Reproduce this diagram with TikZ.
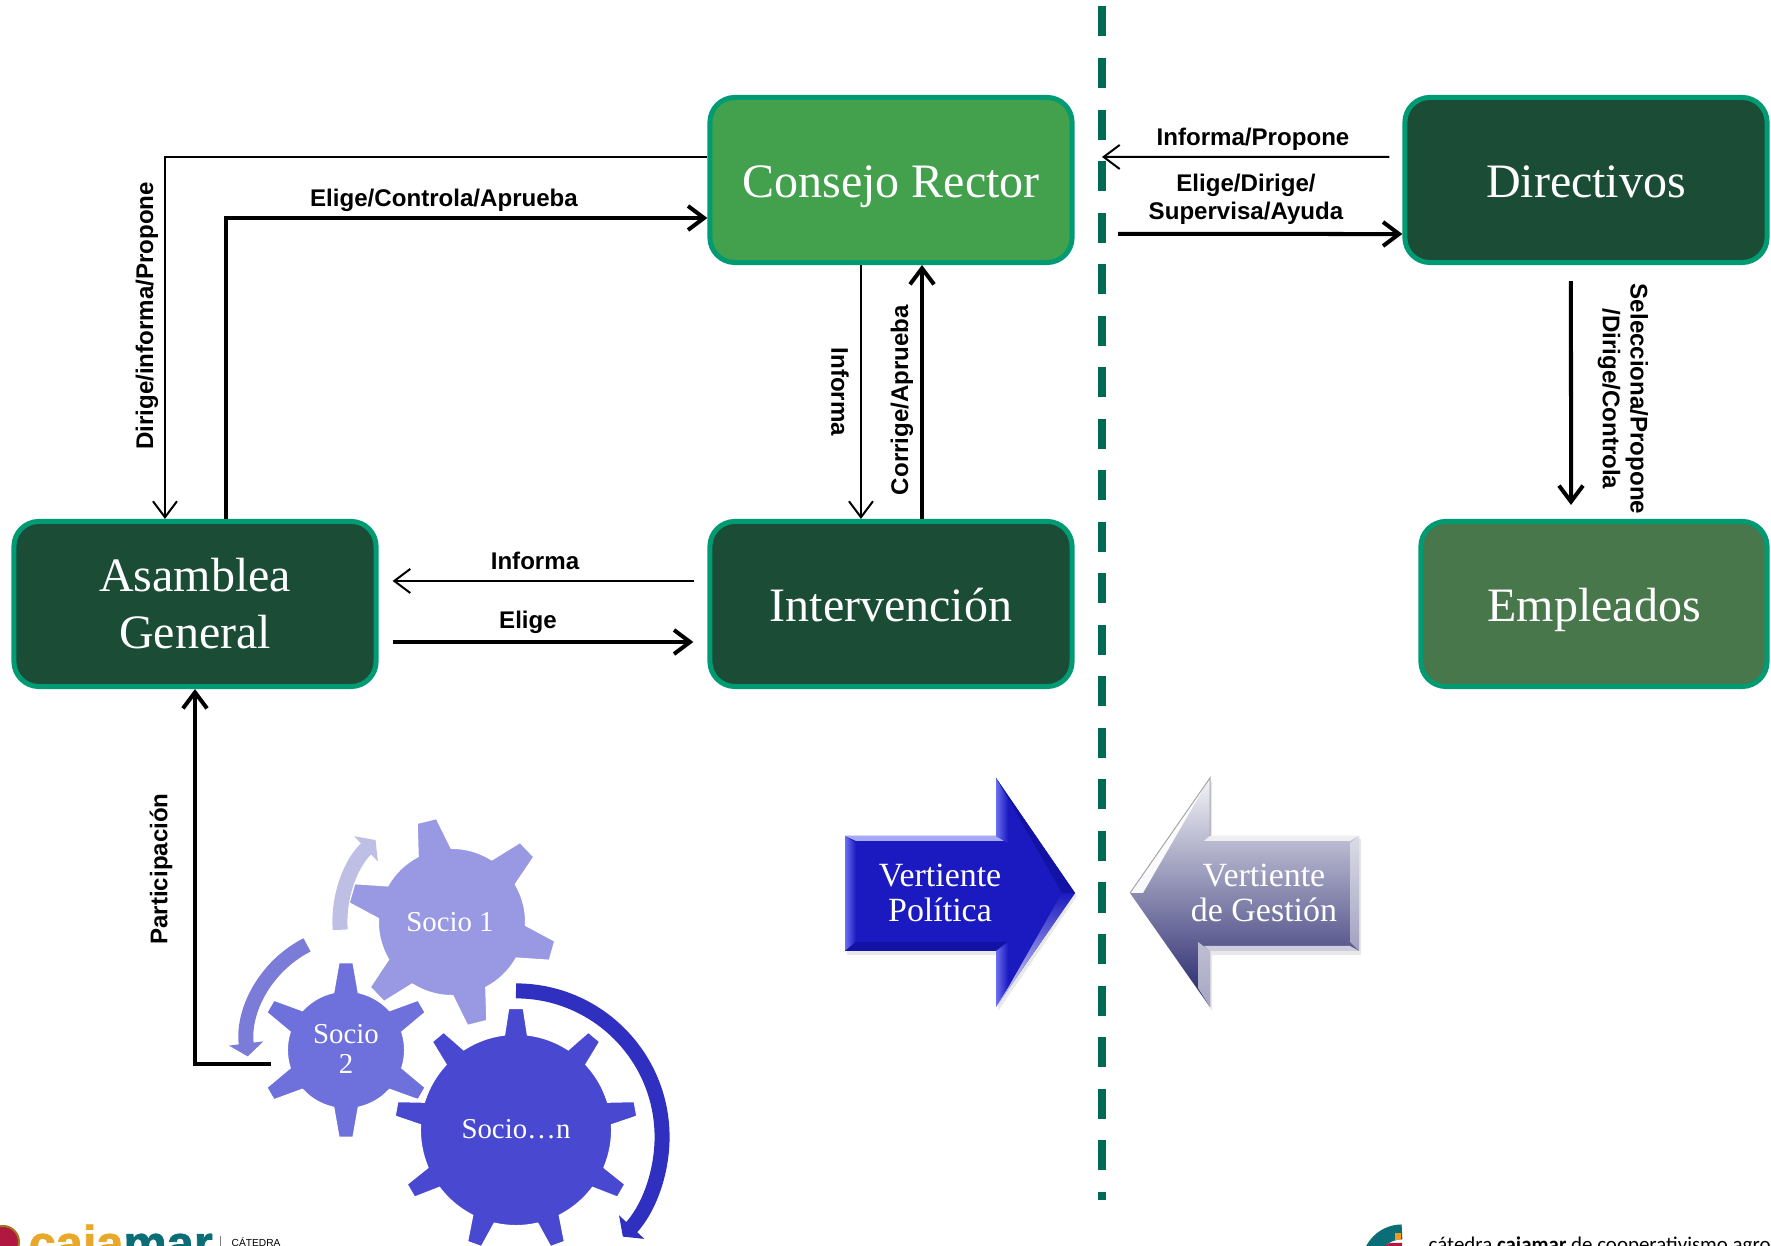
\documentclass[tikz,border=0pt]{standalone}
\usepackage{fontspec}
\setmainfont{Liberation Serif}
\newfontfamily\labelfont{Liberation Sans}
\newfontfamily\footfont{Carlito}
\newfontfamily\brandfont[FakeBold=1.5]{Liberation Sans Bold}
\usetikzlibrary{arrows.meta}

\definecolor{darkbox}{HTML}{1B4C36}
\definecolor{boxedge}{HTML}{009A73}
\definecolor{greenbox}{HTML}{43A04C}
\definecolor{olivebox}{HTML}{47774A}
\definecolor{divider}{HTML}{006B54}
\definecolor{gearA}{HTML}{9999E3}
\definecolor{gearB}{HTML}{6E70DB}
\definecolor{gearC}{HTML}{4848D0}
\definecolor{ringA}{HTML}{BFBFE6}
\definecolor{ringB}{HTML}{7B7BD8}
\definecolor{ringC}{HTML}{3030C0}
\definecolor{bluefill}{HTML}{1A1AC0}
\definecolor{bluelight}{HTML}{6A70F0}
\definecolor{bluedark}{HTML}{1212A4}
\definecolor{greytop}{HTML}{F4F4F8}
\definecolor{greymid}{HTML}{A6A6C0}
\definecolor{greylow}{HTML}{22226A}
\definecolor{logoyellow}{HTML}{E8A92A}
\definecolor{logoteal}{HTML}{0B6E77}
\definecolor{logored}{HTML}{B01840}
\definecolor{logoorange}{HTML}{EE9A22}

\tikzset{
  box/.style={draw=boxedge,line width=.05cm,rounded corners=.25cm,minimum width=3.62cm,
    minimum height=1.65cm,align=center,text=white,font=\fontsize{13.65}{16.2}\selectfont},
  oneline/.style={text height=.46cm,text depth=.10cm},
  label/.style={font=\labelfont\bfseries\fontsize{6.85}{7.9}\selectfont,align=center,inner sep=0pt},
  gearlabel/.style={text=white,align=center,inner sep=0pt,font=\fontsize{8.2}{8.7}\selectfont},
  sidelabel/.style={text=white,align=center,inner sep=0pt,font=\fontsize{9.65}{10.2}\selectfont},
  thin line/.style={line width=.02cm,-{Straight Barb[length=.16cm,width=.24cm]}},
  thick line/.style={line width=.04cm,-{Straight Barb[length=.16cm,width=.24cm]}},
  ring/.style={line width=.15cm,-{Triangle[length=.13cm,width=.34cm]}},
}

\newcommand{\gearshape}[9]{
  \begin{scope}[shift={(#2)}]
    \filldraw[fill=#1,draw=white,line width=.04cm] ({#9-#7}:#3)
      \foreach \a in {#4} {
        -- ({\a-#7}:#3) -- ({\a-#8}:#6) -- ({\a+#8}:#6) -- ({\a+#7}:#3)
        arc[start angle=\a+#7,end angle=\a+#5-#7,radius=#3]
      } -- cycle;
  \end{scope}
}

\begin{document}
\begin{tikzpicture}[x=.01cm,y=.01cm]
  \clip (0,0) rectangle (1771,1246);
  \fill[white] (0,0) rectangle (1771,1246);

  \node[box,oneline,fill=greenbox] (consejo) at (891,1066) {Consejo Rector};
  \node[box,oneline,fill=darkbox] (directivos) at (1586,1066) {Directivos};
  \node[box,fill=darkbox] (asamblea) at (195,642) {\raisebox{-1pt}{Asamblea}\\\raisebox{-1pt}{General}};
  \node[box,oneline,fill=darkbox] (intervencion) at (891,642) {Intervención};
  \node[box,oneline,fill=olivebox,minimum width=3.46cm] (empleados) at (1594,642) {Empleados};

  \draw[divider,line width=.08cm,dash pattern=on .3cm off .215cm] (1102,1239.5) -- (1102,46);

  \coordinate (gestion) at (1102,1089);
  \coordinate (gestionb) at (1118,1012);
  \coordinate (bajada) at (1571,741);
  \coordinate (salida) at (271,182);

  \draw[thin line] ([yshift=.23cm]consejo.west) -| ([xshift=-.3cm]asamblea.north);
  \draw[thick line] ([xshift=.31cm]asamblea.north) |- ([yshift=-.38cm]consejo.west);
  \draw[thin line] ([xshift=-.3cm]consejo.south) -- ([xshift=-.3cm]intervencion.north);
  \draw[thick line] ([xshift=.31cm]intervencion.north) -- ([xshift=.31cm]consejo.south);
  \draw[thin line] ([shift={(-.13cm,.23cm)}]intervencion.west) -- ([shift={(.14cm,.23cm)}]asamblea.east);
  \draw[thick line] ([shift={(.14cm,-.38cm)}]asamblea.east) -- ([shift={(-.14cm,-.38cm)}]intervencion.west);
  \draw[thin line] ([shift={(-.13cm,.23cm)}]directivos.west) -- (gestion);
  \draw[thick line] (gestionb) -- ([yshift=-.54cm]directivos.west);
  \draw[thick line] ([shift={(-.15cm,-.16cm)}]directivos.south) -- (bajada);
  \draw[thick line] (salida) -| (asamblea.south);

  \node[label] (t1) at (444,1046) {Elige/Controla/Aprueba};
  \node[label,rotate=90] (t2) at (147,930) {Dirige/informa/Propone};
  \node[label,rotate=-90] (t3) at (840,854) {Informa};
  \node[label,rotate=90] (t4) at (902,846) {Corrige/Aprueba};
  \node[label] (t5) at (535,685) {Informa};
  \node[label] (t6) at (528,624) {Elige};
  \node[label,rotate=90] (t7) at (161,377) {Participación};
  \node[label] (t8) at (1253,1107) {Informa/Propone};
  \node[label] (t9) at (1246,1047) {Elige/Dirige/\\Supervisa/Ayuda};
  \node[label,rotate=-90] (t10) at (1623,847) {Selecciona/Propone\\/Dirige/Controla};

  \gearshape{gearA}{452,324}{.75cm}{104,164,...,404}{60}{1.06cm}{14}{6}{104}
  \gearshape{gearB}{346,196}{.60cm}{90,150,...,390}{60}{.89cm}{13}{5.3}{90}
  \gearshape{gearC}{516,116}{.97cm}{90,130,...,410}{40}{1.23cm}{7.5}{4}{90}

  \node[gearlabel] (socio1) at (450,324) {Socio 1};
  \node[gearlabel] (socio2) at (346,197) {Socio\\2};
  \node[gearlabel] (socion) at (516,117) {Socio…n};

  \draw[ring,ringA] ([shift={(184:1.12cm)}]452,324) arc[start angle=184,end angle=133,radius=1.12cm];
  \draw[ring,ringB] ([shift={(117:1.10cm)}]357,203) arc[start angle=117,end angle=187,radius=1.10cm];
  \draw[ring,ringC] ([shift={(90:1.46cm)}]516,109) arc[start angle=90,end angle=-43,radius=1.46cm];

  \fill[black!25,opacity=.35] (847,291) -- (847,407) -- (998,407) -- (998,465) -- (1077,350) -- (998,235) -- (998,291) -- cycle;
  \fill[bluefill] (845,295) -- (845,410) -- (996,410) -- (996,468) -- (1075,353) -- (996,239) -- (996,295) -- cycle;
  \shade[left color=bluelight,right color=bluefill] (845,295) -- (845,410) -- (856,403) -- (856,304) -- cycle;
  \fill[bluelight!60!white] (845,410) -- (996,410) -- (1004,405) -- (856,405) -- cycle;
  \fill[bluedark] (845,295) -- (996,295) -- (1008,304) -- (856,304) -- cycle;
  \shade[left color=bluelight,right color=bluefill] (996,468) -- (996,410) -- (1008,403) -- (1008,448) -- cycle;
  \shade[left color=bluelight,right color=bluefill] (996,295) -- (1008,304) -- (1008,258) -- (996,239) -- cycle;
  \fill[bluedark] (996,468) -- (1008,448) -- (1062,353) -- (1075,353) -- cycle;
  \shade[top color=bluefill,bottom color=bluelight!15!white] (996,239) -- (1008,258) -- (1062,353) -- (1075,353) -- cycle;
  \node[sidelabel] (politica) at (940,353) {Vertiente\\Política};

  \fill[black!25,opacity=.35] (1361,291) -- (1361,407) -- (1212,407) -- (1212,465) -- (1132,350) -- (1212,235) -- (1212,291) -- cycle;
  \shade[top color=greytop,middle color=greymid,bottom color=greylow] (1359,295) -- (1359,410) -- (1210,410) -- (1210,468) -- (1130,353) -- (1210,239) -- (1210,295) -- cycle;
  \fill[white,opacity=.45] (1359,295) -- (1359,410) -- (1350,403) -- (1350,304) -- cycle;
  \fill[white,opacity=.75] (1359,410) -- (1210,410) -- (1204,405) -- (1350,405) -- cycle;
  \fill[white,opacity=.7] (1359,295) -- (1210,295) -- (1204,300) -- (1350,300) -- cycle;
  \fill[white,opacity=.95] (1210,468) -- (1198,448) -- (1143,353) -- (1130,353) -- cycle;
  \fill[white,opacity=.6] (1210,295) -- (1198,304) -- (1198,258) -- (1210,239) -- cycle;
  \draw[black!35,line width=.01cm] (1210,410) -- (1210,468) -- (1130,353);
  \node[sidelabel] (gestiontext) at (1264,353) {Vertiente\\de Gestión};

  \filldraw[fill=logored,draw=logoyellow!70!black,line width=.02cm] (3,4) circle (.16cm);
  \node[anchor=base west,inner sep=0pt,font=\brandfont\fontsize{13.85}{16}\selectfont] (logoa) at (28,-14) {\textcolor{logoyellow}{caja}\textcolor{logoteal}{mar}};
  \draw[black!50,line width=.01cm] (220,10) -- (220,0);
  \node[anchor=base west,inner sep=0pt,font=\labelfont\fontsize{2.9}{3}\selectfont] (logob) at (231,-1) {CÁTEDRA};

  \draw[logoteal,line width=.15cm] ([shift={(180:.33cm)}]1402,-19) arc[start angle=180,end angle=90,radius=.33cm];
  \fill[logoorange] (1395,13) rectangle (1401,6);
  \fill[logored] (1384,0) -- (1402,0) -- (1402,3) -- (1390,3) -- cycle;
  \node[anchor=base west,inner sep=0pt,font=\footfont\fontsize{5.95}{6}\selectfont] (logoc) at (1428,-6) {cátedra \textbf{cajamar} de cooperativismo agro};
\end{tikzpicture}
\end{document}
